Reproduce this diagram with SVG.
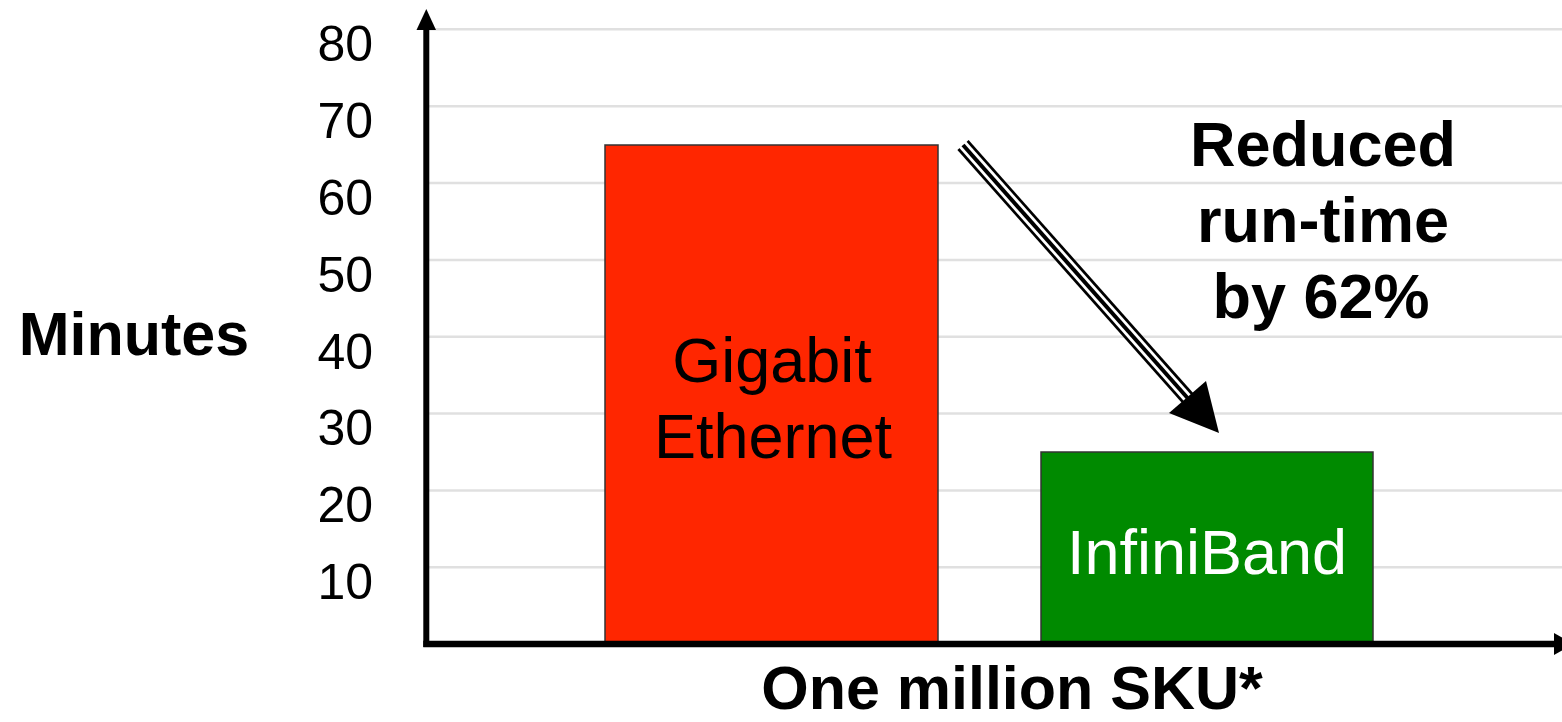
<svg xmlns="http://www.w3.org/2000/svg" width="1562" height="722" viewBox="0 0 1562 722">
<style>
.grid{stroke:#e0e0e0;stroke-width:2.5}
.tick{font-family:"Liberation Sans",Arial,sans-serif;font-size:50px;fill:#000;text-anchor:end}
.bold{font-family:"Liberation Sans",Arial,sans-serif;font-size:61px;font-weight:bold;fill:#000;text-anchor:middle}
.title{font-size:63px}
.barlbl{font-family:"Liberation Sans",Arial,sans-serif;font-size:63px;text-anchor:middle}
.bar{stroke:#333;stroke-width:1.5}
</style>
<rect width="1562" height="722" fill="#fff"/>
<g id="grid">
<line class="grid" x1="429" y1="29.3" x2="1562" y2="29.3"/>
<line class="grid" x1="429" y1="106.2" x2="1562" y2="106.2"/>
<line class="grid" x1="429" y1="183" x2="1562" y2="183"/>
<line class="grid" x1="429" y1="259.9" x2="1562" y2="259.9"/>
<line class="grid" x1="429" y1="336.8" x2="1562" y2="336.8"/>
<line class="grid" x1="429" y1="413.6" x2="1562" y2="413.6"/>
<line class="grid" x1="429" y1="490.5" x2="1562" y2="490.5"/>
<line class="grid" x1="429" y1="567.3" x2="1562" y2="567.3"/>
</g>
<g id="ticks">
<text class="tick" x="373" y="61">80</text>
<text class="tick" x="373" y="138">70</text>
<text class="tick" x="373" y="215">60</text>
<text class="tick" x="373" y="292">50</text>
<text class="tick" x="373" y="369">40</text>
<text class="tick" x="373" y="445">30</text>
<text class="tick" x="373" y="522">20</text>
<text class="tick" x="373" y="599">10</text>
</g>
<g id="bar-gigabit">
<rect class="bar" x="605" y="145" width="333" height="497" fill="#ff2600"/>
<text class="barlbl" x="772" y="382" fill="#000">Gigabit</text>
<text class="barlbl" x="773" y="458" fill="#000">Ethernet</text>
</g>
<g id="bar-infiniband">
<rect class="bar" x="1041" y="452" width="332" height="190" fill="#008a00"/>
<text class="barlbl" x="1207" y="574" fill="#fff">InfiniBand</text>
</g>
<g id="axes">
<line x1="426.3" y1="27" x2="426.3" y2="647" stroke="#000" stroke-width="6"/>
<polygon points="426.3,9 416.5,30 436,30" fill="#000"/>
<line x1="423.3" y1="644" x2="1556" y2="644" stroke="#000" stroke-width="6.5"/>
<polygon points="1574,644 1554,633 1554,655" fill="#000"/>
</g>
<g id="connectors">
<line x1="963" y1="145" x2="1192" y2="403" stroke="#000" stroke-width="15"/>
<line x1="960.5" y1="142.2" x2="1194.5" y2="405.8" stroke="#fff" stroke-width="9.5"/>
<line x1="963" y1="145" x2="1192" y2="403" stroke="#000" stroke-width="4"/>
<polygon points="1219,433 1169,413 1206,381" fill="#000"/>
</g>
<g id="labels">
<text class="bold" x="134" y="355">Minutes</text>
<text class="bold" x="1012" y="709">One million SKU*</text>
<text class="bold title" x="1323" y="166">Reduced</text>
<text class="bold title" x="1323" y="242">run-time</text>
<text class="bold title" x="1321" y="318">by 62%</text>
</g>
</svg>
